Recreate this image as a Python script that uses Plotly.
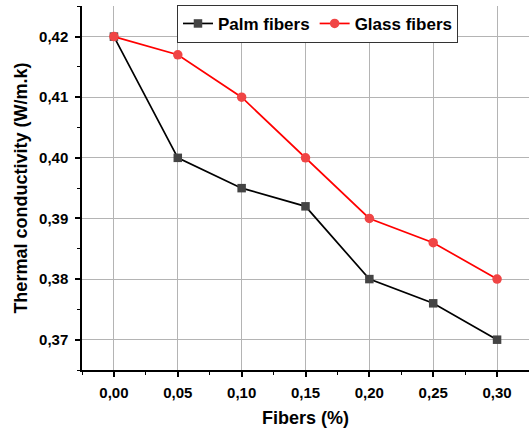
import plotly.graph_objects as go

fibers = [0.00, 0.05, 0.10, 0.15, 0.20, 0.25, 0.30]
palm = [0.420, 0.400, 0.395, 0.392, 0.380, 0.376, 0.370]
glass = [0.420, 0.417, 0.410, 0.400, 0.390, 0.386, 0.380]
x_ticks = [0.00, 0.05, 0.10, 0.15, 0.20, 0.25, 0.30]
x_labels = ["0,00", "0,05", "0,10", "0,15", "0,20", "0,25", "0,30"]
y_ticks = [0.37, 0.38, 0.39, 0.40, 0.41, 0.42]
y_labels = ["0,37", "0,38", "0,39", "0,40", "0,41", "0,42"]
x_title = "Fibers (%)"
y_title = "Thermal conductivity (W/m.k)"

fig = go.Figure()
fig.add_trace(go.Scatter(
    x=fibers, y=palm, mode="lines+markers", name="Palm fibers",
    line=dict(color="black", width=1.7),
    marker=dict(symbol="square", size=8.5, color="#444444", line=dict(width=0)),
))
fig.add_trace(go.Scatter(
    x=fibers, y=glass, mode="lines+markers", name="Glass fibers",
    line=dict(color="#ff0000", width=1.7),
    marker=dict(symbol="circle", size=9.5, color="#f04545", line=dict(width=0)),
))

font_family = "Liberation Sans, Arial, sans-serif"
fig.update_layout(
    width=529, height=433,
    margin=dict(l=82, r=0, t=6, b=63),
    paper_bgcolor="white", plot_bgcolor="white",
    font=dict(family=font_family, color="black"),
    showlegend=True,
    legend=dict(
        orientation="h", x=0.2125, y=1.003, xanchor="left", yanchor="top",
        bgcolor="white", bordercolor="#333333", borderwidth=1,
        font=dict(size=17, family=font_family, weight="bold"),
        itemwidth=30, tracegroupgap=0,
    ),
    xaxis=dict(
        range=[-0.025, 0.325], automargin=False,
        tickmode="array", tickvals=x_ticks, ticktext=x_labels,
        tickfont=dict(size=15, weight="bold"),
        showgrid=True, gridcolor="#b4b4b4", gridwidth=1,
        zeroline=False,
        showline=True, linecolor="black", linewidth=1.5,
        ticks="outside", ticklen=5, tickcolor="black", tickwidth=1.5,
        ticklabelstandoff=3,
        minor=dict(tickvals=[-0.025, 0.025, 0.075, 0.125, 0.175, 0.225, 0.275, 0.325],
                   ticks="outside", ticklen=3, tickcolor="black", tickwidth=1.2, showgrid=False),
    ),
    yaxis=dict(
        range=[0.365, 0.42505], automargin=False,
        tickmode="array", tickvals=y_ticks, ticktext=y_labels,
        tickfont=dict(size=15, weight="bold"),
        showgrid=True, gridcolor="#b4b4b4", gridwidth=1,
        zeroline=False,
        showline=True, linecolor="black", linewidth=1.5,
        ticks="outside", ticklen=5, tickcolor="black", tickwidth=1.5,
        ticklabelstandoff=4,
        minor=dict(tickvals=[0.365, 0.375, 0.385, 0.395, 0.405, 0.415, 0.425],
                   ticks="outside", ticklen=3, tickcolor="black", tickwidth=1.2, showgrid=False),
    ),
    annotations=[
        dict(text=x_title, xref="paper", yref="paper", x=0.501, y=-0.132,
             xanchor="center", yanchor="middle", showarrow=False,
             font=dict(size=18, weight="bold", family=font_family)),
        dict(text=y_title, xref="paper", yref="paper", x=-0.1365, y=0.501,
             xanchor="center", yanchor="middle", showarrow=False, textangle=-90,
             font=dict(size=18, weight="bold", family=font_family)),
    ],
)

fig.write_html("out.html", config={"displayModeBar": False},
               post_script="document.body.style.margin='0';document.body.style.overflow='hidden';")
